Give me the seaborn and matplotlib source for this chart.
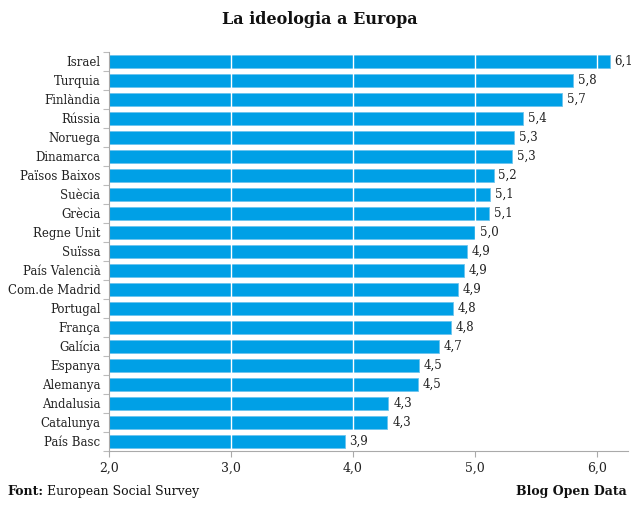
import numpy as np
import pandas as pd
import seaborn as sns
import matplotlib.pyplot as plt
from matplotlib.ticker import FixedLocator, FuncFormatter

paisos = ['Israel', 'Turquia', 'Finlàndia', 'Rússia', 'Noruega', 'Dinamarca',
          'Països Baixos', 'Suècia', 'Grècia', 'Regne Unit', 'Suïssa',
          'País Valencià', 'Com.de Madrid', 'Portugal', 'França', 'Galícia',
          'Espanya', 'Alemanya', 'Andalusia', 'Catalunya', 'País Basc']
ideologia = [6.10, 5.80, 5.71, 5.39, 5.32, 5.30, 5.15, 5.12, 5.11, 5.00, 4.93,
             4.91, 4.86, 4.82, 4.80, 4.70, 4.54, 4.53, 4.29, 4.28, 3.93]
ticks_x = [2.0, 3.0, 4.0, 5.0, 6.0]

df = pd.DataFrame({'Pais': paisos, 'Ideologia': ideologia})

sns.set_style('white')
plt.rcParams['font.family'] = ['DejaVu Serif']

fig = plt.figure(figsize=(6.4, 5.14), dpi=100)
ax = fig.add_axes([0.170, 0.123, 0.811, 0.776])

blau = '#00a0e6'
sns.barplot(data=df, x='Ideologia', y='Pais', orient='h', color=blau,
            saturation=1, width=0.68, edgecolor='#6cc4ee', linewidth=0.6,
            ax=ax, zorder=2)

ax.set_xlim(2.0, 6.25)
ax.set_ylim(len(paisos) - 0.5, -0.5)

# linies blanques damunt les barres
for t in ticks_x[1:]:
    ax.axvline(t, color='white', lw=1.0, zorder=3)

for i, v in enumerate(ideologia):
    ax.text(v + 0.04, i, f'{v:.1f}'.replace('.', ','), va='center', ha='left',
            fontsize=8.5, color='#222222', zorder=4)

ax.xaxis.set_major_locator(FixedLocator(ticks_x))
ax.xaxis.set_major_formatter(FuncFormatter(lambda x, p: f'{x:.1f}'.replace('.', ',')))
ax.tick_params(axis='x', length=4, width=0.8, color='#aaaaaa', labelsize=9,
               labelcolor='#222222', pad=4, bottom=True)
ax.tick_params(axis='y', which='major', length=0, labelsize=8.5,
               labelcolor='#222222', pad=6)
ax.yaxis.set_minor_locator(FixedLocator(np.arange(-0.5, len(paisos), 1.0)))
ax.tick_params(axis='y', which='minor', length=4, width=0.8, color='#bbbbbb', left=True)

for s in ['top', 'right']:
    ax.spines[s].set_visible(False)
ax.spines['left'].set_color('#aaaaaa')
ax.spines['bottom'].set_color('#aaaaaa')
ax.spines['left'].set_linewidth(0.8)
ax.spines['bottom'].set_linewidth(0.8)
ax.set_xlabel('')
ax.set_ylabel('')

fig.text(0.5, 0.963, 'La ideologia a Europa', ha='center', va='center',
         fontsize=11.5, fontweight='bold', color='#111111')
fig.text(0.012, 0.043, 'Font:', ha='left', va='center', fontsize=9,
         fontweight='bold', color='#111111')
fig.text(0.074, 0.043, 'European Social Survey', ha='left', va='center',
         fontsize=9, color='#111111')
fig.text(0.980, 0.043, 'Blog Open Data', ha='right', va='center', fontsize=9,
         fontweight='bold', color='#111111')

fig.savefig('out.png', dpi=100)
